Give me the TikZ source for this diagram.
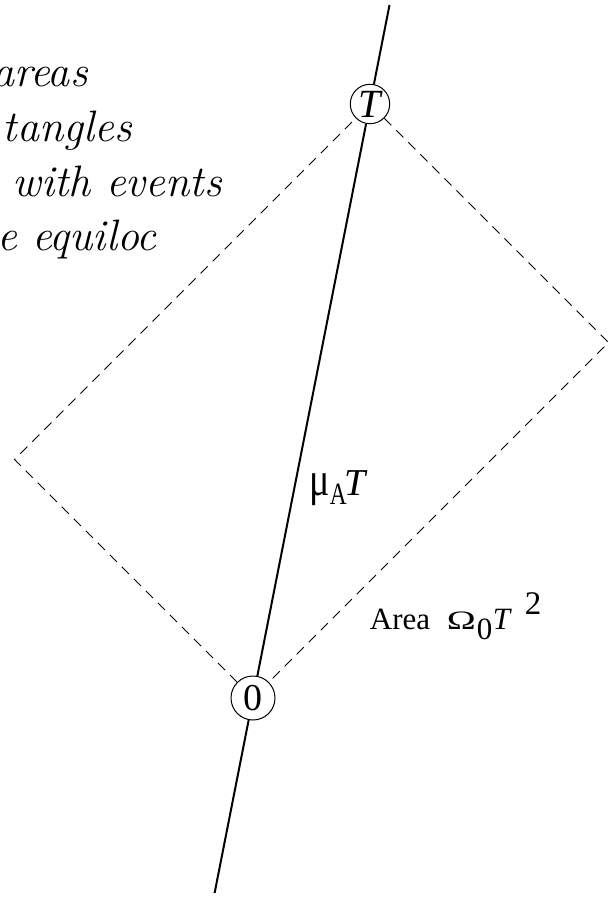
\documentclass[tikz,border=0pt]{standalone}
\usepackage{fontspec}
\usepackage{graphicx}
\newfontfamily\tms{Liberation Serif}
\begin{document}
\begin{tikzpicture}[x=0.5pt,y=-0.5pt,
  circ/.style={circle,draw,line width=0.5pt,inner sep=0pt},
  worldline/.style={line width=1pt},
  cone/.style={line width=0.5pt,dash pattern=on 5pt off 3.5pt},
  italtext/.style={anchor=base east,inner sep=0pt,font=\fontsize{22}{26}\selectfont\itshape},
  lbl/.style={anchor=base west,inner sep=0pt,font=\tms}]
\useasboundingbox (0,0) rectangle (613,898);
\clip (0,0) rectangle (613,898);
% cut-off caption at top left
\node[italtext] (t1) at (88,86.7) {areas};
\node[italtext] (t2) at (132,141.5) {tangles};
\node[italtext] (t3) at (222,196.5) {with events};
\node[italtext] (t4) at (157,251) {e equiloc};
% events
\node[circ,minimum size=22pt,font=\tms\fontsize{19}{19}\selectfont] (zero) at (253,698) {0};
\node[circ,minimum size=19.7pt,font=\tms\fontsize{20}{20}\selectfont\itshape] (tee) at (370,104) {T};
\coordinate (bot) at (214.6,893);
\coordinate (top) at (389.5,5);
\coordinate (L) at (14.5,459.5);
\coordinate (R) at (608.5,342.5);
% world line
\draw[worldline] (bot) -- (zero) (zero) -- (tee) (tee) -- (top);
% light cone rectangle
\draw[cone] (zero) -- (L) -- (tee);
\draw[cone] (tee) -- (R) -- (zero);
% labels
\node[lbl] (mu) at (309,495) {\fontsize{19}{19}\selectfont\scalebox{1.0}[1.25]{μ}\raisebox{-4.5pt}{\fontsize{15.5}{15.5}\selectfont\scalebox{0.75}[1]{A}}\kern-1pt\textit{T}};
\node[lbl] (area) at (369.5,629.3) {\makebox[38.5pt][l]{\fontsize{15.5}{15.5}\selectfont Area}\makebox[15pt][l]{\fontsize{13}{13}\selectfont\resizebox{14.5pt}{8.8pt}{Ω}}\makebox[8pt][l]{\raisebox{-5pt}{\fontsize{15.5}{15.5}\selectfont 0}}\makebox[16pt][l]{\fontsize{15.5}{15.5}\selectfont\itshape T}\raisebox{7.2pt}{\fontsize{16.5}{16.5}\selectfont 2}};
\end{tikzpicture}
\end{document}
